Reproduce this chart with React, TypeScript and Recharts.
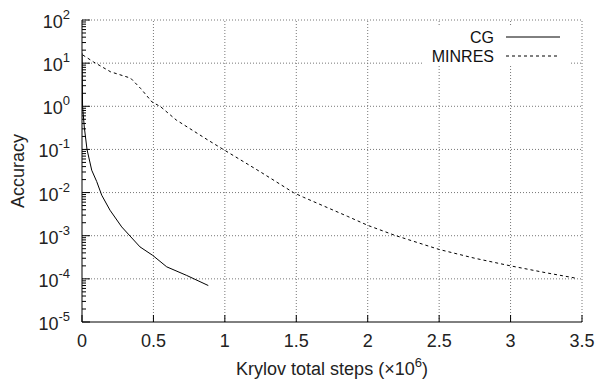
import { LineChart, Line, XAxis, YAxis, ReferenceLine, Legend, Label } from 'recharts'

const FONT = '"Liberation Sans", Arial, Helvetica, sans-serif'

// Krylov total steps (x 10^6) and accuracy for each solver
const cgSteps = [0, 0.004, 0.016, 0.035, 0.068, 0.103, 0.138, 0.196, 0.278, 0.406, 0.495, 0.593, 0.733, 0.884]
const cgAccuracy = [17, 1.0, 0.33, 0.1, 0.033, 0.018, 0.0087, 0.0039, 0.0016, 0.00055, 0.00035, 0.00019, 0.00012, 0.00007]

const minresSteps = [0.005, 0.08, 0.2, 0.34, 0.41, 0.49, 0.55, 0.66, 0.88, 1.0, 1.25, 1.48, 1.55, 1.86, 2.0, 2.19, 2.5, 2.75, 3.0, 3.25, 3.47]
const minresAccuracy = [15.5, 10.7, 6.3, 4.5, 2.6, 1.26, 0.98, 0.48, 0.166, 0.095, 0.03, 0.01, 0.0078, 0.0028, 0.00174, 0.00102, 0.00048, 0.0003, 0.0002, 0.000138, 0.000102]

const xTicks = [0, 0.5, 1, 1.5, 2, 2.5, 3, 3.5]
const yMajor = [1e-5, 1e-4, 1e-3, 1e-2, 1e-1, 1, 10, 100]
const yMinor = yMajor.slice(0, -1).flatMap((d) => [2, 3, 4, 5, 6, 7, 8, 9].map((m) => d * m))
const yTicks = [...yMajor, ...yMinor].sort((a, b) => a - b)

const cgData = cgSteps.map((x, i) => ({ x, y: cgAccuracy[i] }))
const minresData = minresSteps.map((x, i) => ({ x, y: minresAccuracy[i] }))

const isMajor = (v: number) => {
  const l = Math.log10(v)
  return Math.abs(l - Math.round(l)) < 1e-9
}

function YTick({ x, y, payload }: any) {
  const v = payload.value
  const major = isMajor(v)
  return (
    <g>
      <line x1={x} x2={x + (major ? 8 : 4)} y1={y} y2={y} stroke="#000" strokeWidth={1} />
      {major && (
        <text x={x - 12} y={y + 8} textAnchor="end" fontSize={18} fontFamily={FONT} fill="#222">
          10
          <tspan dy={-9} fontSize={13}>
            {Math.round(Math.log10(v))}
          </tspan>
        </text>
      )}
    </g>
  )
}

function XTick({ x, y, payload }: any) {
  return (
    <g>
      <line x1={x} x2={x} y1={y} y2={y - 7} stroke="#000" strokeWidth={1} />
      <text x={x} y={y + 25} textAnchor="middle" fontSize={18} fontFamily={FONT} fill="#222">
        {payload.value}
      </text>
    </g>
  )
}

function XTitle({ viewBox }: any) {
  const { x, y, width } = viewBox
  return (
    <text x={x + width / 2} y={y + 53} textAnchor="middle" fontSize={18} fontFamily={FONT} fill="#222">
      Krylov total steps (×10
      <tspan dy={-8} fontSize={13}>6</tspan>
      <tspan dy={8}>)</tspan>
    </text>
  )
}

function YTitle({ viewBox }: any) {
  const { y, height } = viewBox
  const cy = y + height / 2
  return (
    <text x={24} y={cy} transform={`rotate(-90 24 ${cy})`} textAnchor="middle" fontSize={18} fontFamily={FONT} fill="#222">
      Accuracy
    </text>
  )
}

function KeyBox() {
  return (
    <div style={{ background: '#fff', width: 148, height: 38 }}>
      <svg width={148} height={38} style={{ display: 'block' }}>
        <text x={72} y={16} textAnchor="end" fontSize={16} fontFamily={FONT} fill="#111">CG</text>
        <line x1={84} x2={138} y1={10} y2={10} stroke="#000" strokeWidth={1} />
        <text x={72} y={35} textAnchor="end" fontSize={16} fontFamily={FONT} fill="#111">MINRES</text>
        <line x1={84} x2={138} y1={29} y2={29} stroke="#000" strokeWidth={1} strokeDasharray="3 3" />
      </svg>
    </div>
  )
}

const gridStyle = { stroke: '#777', strokeDasharray: '1 2', strokeWidth: 1 }

export default function App() {
  return (
    <div style={{ position: 'absolute', left: 0, top: 0, background: '#fff' }}>
      <LineChart width={597} height={381} margin={{ top: 20, right: 15, bottom: 0, left: 0 }}>
        <XAxis
          dataKey="x"
          type="number"
          domain={[0, 3.5]}
          ticks={xTicks}
          interval={0}
          allowDataOverflow
          height={59}
          tickSize={0}
          tickMargin={0}
          tickLine={false}
          axisLine={{ stroke: '#000', strokeWidth: 1 }}
          tick={<XTick />}
        >
          <Label content={<XTitle />} />
        </XAxis>
        <YAxis
          dataKey="y"
          type="number"
          scale="log"
          domain={[1e-5, 100]}
          ticks={yTicks}
          interval={0}
          allowDataOverflow
          width={82}
          tickSize={0}
          tickMargin={0}
          tickLine={false}
          axisLine={{ stroke: '#000', strokeWidth: 1 }}
          tick={<YTick />}
        >
          <Label content={<YTitle />} />
        </YAxis>
        {yMajor.slice(1).map((v) => (
          <ReferenceLine key={'h' + v} y={v} {...gridStyle} />
        ))}
        {xTicks.slice(1).map((v) => (
          <ReferenceLine key={'v' + v} x={v} {...gridStyle} />
        ))}
        <Line
          data={cgData}
          dataKey="y"
          name="CG"
          type="linear"
          stroke="#000"
          strokeWidth={1}
          dot={false}
          isAnimationActive={false}
        />
        <Line
          data={minresData}
          dataKey="y"
          name="MINRES"
          type="linear"
          stroke="#000"
          strokeWidth={1}
          strokeDasharray="3 3"
          dot={false}
          isAnimationActive={false}
        />
        <Legend
          layout="vertical"
          align="center"
          verticalAlign="middle"
          content={<KeyBox />}
          wrapperStyle={{ left: 422, top: 27, width: 148, height: 38 }}
        />
      </LineChart>
    </div>
  )
}
